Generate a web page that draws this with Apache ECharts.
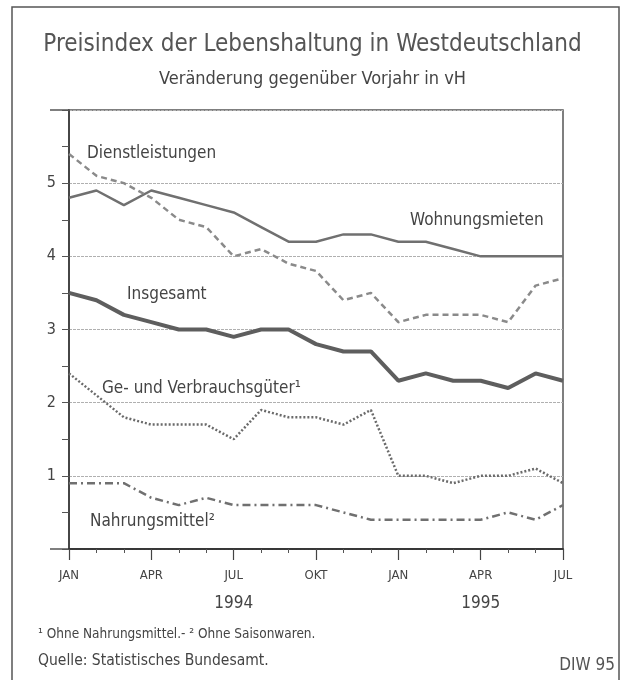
<!DOCTYPE html>
<html lang="de">
<head>
    <meta charset="UTF-8">
    <title>Preisindex der Lebenshaltung</title>
    <script type="text/javascript" src="https://cdn.jsdelivr.net/npm/echarts@6/dist/echarts.min.js"></script>
    <style>
        html, body { margin: 0; padding: 0; background: #fff; }
        #main { width: 625px; height: 680px; }
    </style>
</head>
<body>
<div id="main"></div>
<script type="text/javascript">
    // Monate Jan 1994 - Jul 1995
    var months = ['JAN','FEB','MAR','APR','MAI','JUN','JUL','AUG','SEP','OKT','NOV','DEZ',
                  'JAN','FEB','MAR','APR','MAI','JUN','JUL'];
    var years = ['','','','','','','1994','','','','','','','','','1995','','',''];

    var wohnungsmieten   = [4.8,4.9,4.7,4.9,4.8,4.7,4.6,4.4,4.2,4.2,4.3,4.3,4.2,4.2,4.1,4.0,4.0,4.0,4.0];
    var dienstleistungen = [5.4,5.1,5.0,4.8,4.5,4.4,4.0,4.1,3.9,3.8,3.4,3.5,3.1,3.2,3.2,3.2,3.1,3.6,3.7];
    var insgesamt        = [3.5,3.4,3.2,3.1,3.0,3.0,2.9,3.0,3.0,2.8,2.7,2.7,2.3,2.4,2.3,2.3,2.2,2.4,2.3];
    var verbrauchsgueter = [2.4,2.1,1.8,1.7,1.7,1.7,1.5,1.9,1.8,1.8,1.7,1.9,1.0,1.0,0.9,1.0,1.0,1.1,0.9];
    var nahrungsmittel   = [0.9,0.9,0.9,0.7,0.6,0.7,0.6,0.6,0.6,0.6,0.5,0.4,0.4,0.4,0.4,0.4,0.5,0.4,0.6];

    var FONT = "'DejaVu Sans Condensed', 'Liberation Sans', sans-serif";
    var TXT = '#444';

    var myChart = echarts.init(document.getElementById('main'));

    function lineSeries(name, data, color, width, type) {
        return {
            name: name,
            type: 'line',
            xAxisIndex: 0,
            data: data,
            symbol: 'none',
            silent: true,
            lineStyle: { color: color, width: width, type: type },
            z: 3
        };
    }

    var option = {
        backgroundColor: '#fff',
        animation: false,
        title: {
            text: 'Preisindex der Lebenshaltung in Westdeutschland',
            subtext: 'Veränderung gegenüber Vorjahr in vH',
            left: 'center',
            top: 28,
            itemGap: 13,
            textStyle: { fontFamily: FONT, fontSize: 24, fontWeight: 'normal', color: '#555' },
            subtextStyle: { fontFamily: FONT, fontSize: 18, color: TXT }
        },
        grid: {
            left: 69, right: 62, top: 110, bottom: 131,
            show: true,
            borderColor: '#555',
            borderWidth: 1.5,
            backgroundColor: 'transparent'
        },
        xAxis: [{
            type: 'category',
            data: months,
            boundaryGap: false,
            position: 'bottom',
            axisLine: { lineStyle: { color: '#333', width: 1.5 } },
            axisTick: { show: true, interval: 0, length: 4, lineStyle: { color: '#555' } },
            axisLabel: {
                interval: 2, margin: 20,
                fontFamily: FONT, fontSize: 13, color: TXT
            },
            splitLine: { show: false }
        }, {
            type: 'category',
            data: months,
            boundaryGap: false,
            position: 'bottom',
            axisLine: { show: true, lineStyle: { color: '#333', width: 1.5 } },
            axisTick: { show: true, interval: 2, length: 11, lineStyle: { color: '#444', width: 1.2 } },
            axisLabel: { show: false },
            splitLine: { show: false }
        }, {
            type: 'category',
            data: years,
            boundaryGap: false,
            position: 'bottom',
            offset: 38,
            axisLine: { show: false },
            axisTick: { show: false },
            axisLabel: { interval: 0, fontFamily: FONT, fontSize: 17, color: TXT },
            splitLine: { show: false }
        }],
        yAxis: {
            type: 'value',
            min: 0,
            max: 6,
            interval: 1,
            axisLine: { show: true, lineStyle: { color: '#333', width: 1.5 } },
            axisTick: { show: true, length: 7, lineStyle: { color: '#555' } },
            minorTick: { show: true, splitNumber: 2, length: 7, lineStyle: { color: '#555' } },
            axisLabel: {
                margin: 13,
                fontFamily: FONT, fontSize: 16, color: TXT,
                formatter: function (v) { return (v === 0 || v === 6) ? '' : v; }
            },
            splitLine: { show: true, lineStyle: { color: '#b0b0b0', width: 1, type: [3, 1] } }
        },
        series: [
            lineSeries('Wohnungsmieten', wohnungsmieten, '#707070', 2.5, 'solid'),
            lineSeries('Dienstleistungen', dienstleistungen, '#8a8a8a', 2.5, [6, 4]),
            lineSeries('Insgesamt', insgesamt, '#5e5e5e', 4, 'solid'),
            lineSeries('Ge- und Verbrauchsgüter', verbrauchsgueter, '#6a6a6a', 2.5, [2, 2]),
            lineSeries('Nahrungsmittel', nahrungsmittel, '#707070', 2.5, [8, 4, 2, 4])
        ],
        graphic: [
            { type: 'rect', shape: { x: 12, y: 7, width: 607, height: 690 },
              style: { fill: 'none', stroke: '#555', lineWidth: 1.5 }, silent: true },
            { type: 'line', shape: { x1: 50, y1: 110, x2: 69, y2: 110 },
              style: { stroke: '#555', lineWidth: 1.5 }, silent: true },
            { type: 'line', shape: { x1: 50, y1: 549, x2: 69, y2: 549 },
              style: { stroke: '#555', lineWidth: 1.5 }, silent: true },
            { type: 'text', left: 87, top: 145, style: { text: 'Dienstleistungen', font: '17px ' + FONT, fill: TXT } },
            { type: 'text', left: 410, top: 212, style: { text: 'Wohnungsmieten', font: '17px ' + FONT, fill: TXT } },
            { type: 'text', left: 127, top: 286, style: { text: 'Insgesamt', font: '17px ' + FONT, fill: TXT } },
            { type: 'text', left: 102, top: 380, style: { text: 'Ge- und Verbrauchsgüter¹', font: '17px ' + FONT, fill: TXT } },
            { type: 'text', left: 90, top: 513, style: { text: 'Nahrungsmittel²', font: '17px ' + FONT, fill: TXT } },
            { type: 'text', left: 38, top: 627, style: { text: '¹ Ohne Nahrungsmittel.- ² Ohne Saisonwaren.', font: '13.5px ' + FONT, fill: TXT } },
            { type: 'text', left: 38, top: 653, style: { text: 'Quelle: Statistisches Bundesamt.', font: '15.5px ' + FONT, fill: TXT } },
            { type: 'text', right: 10, top: 657, style: { text: 'DIW 95', font: '17px ' + FONT, fill: '#555' } }
        ]
    };

    myChart.setOption(option);
</script>
</body>
</html>
